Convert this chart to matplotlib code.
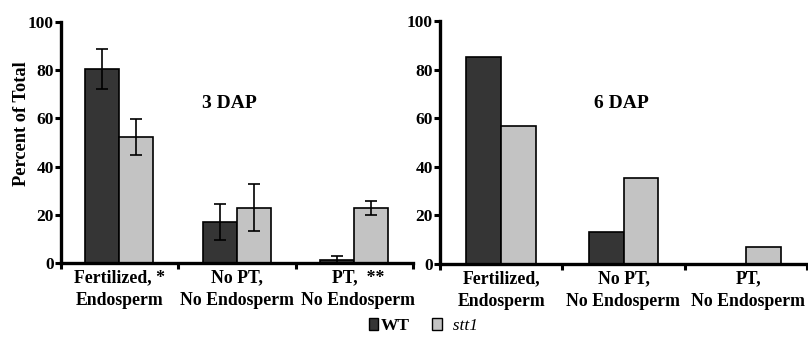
import matplotlib
matplotlib.use("Agg")
import matplotlib.pyplot as plt
import numpy as np
from matplotlib.patches import Patch

categories_3 = ["Fertilized, *\nEndosperm", "No PT,\nNo Endosperm", "PT,  **\nNo Endosperm"]
categories_6 = ["Fertilized,\nEndosperm", "No PT,\nNo Endosperm", "PT,\nNo Endosperm"]
wt_3dap = [80.5, 17.0, 1.2]
wt_3dap_err = [8.3, 7.3, 1.6]
stt1_3dap = [52.4, 23.0, 22.9]
stt1_3dap_err = [7.5, 9.7, 2.9]
wt_6dap = [85.0, 13.3, 0.0]
stt1_6dap = [56.7, 35.3, 6.9]
yticks = [0, 20, 40, 60, 80, 100]

plt.rcParams['font.family'] = ['Liberation Serif', 'DejaVu Serif']
plt.rcParams['font.weight'] = 'bold'

W, H = 808, 342
fig = plt.figure(figsize=(W/100, H/100), dpi=100)

WT_C = "#353535"
ST_C = "#c3c3c3"

def make_ax(x0, x1, y_top, y0):
    return fig.add_axes([x0/W, (H-y0)/H, (x1-x0)/W, (y0-y_top)/H])

def style(ax, cats, offsets):
    ax.set_xlim(0, 3)
    ax.set_ylim(0, 100)
    for s in ["top", "right"]:
        ax.spines[s].set_visible(False)
    for s in ["left", "bottom"]:
        ax.spines[s].set_linewidth(2.4)
    ax.set_yticks(yticks)
    ax.set_yticklabels([str(v) for v in yticks], fontsize=12.5, fontweight='bold')
    ax.set_xticks([0, 1, 2, 3])
    ax.set_xticklabels([])
    ax.tick_params(axis='both', direction='out', length=4, width=2.2, pad=2)
    ax.tick_params(axis='y', pad=1)
    centers = np.arange(len(cats)) + 0.5
    for c, lab, off in zip(centers, cats, offsets):
        ax.text(c + off, -2.5, lab, ha='center', va='top', fontsize=12.8, fontweight='bold',
                multialignment='center', linespacing=1.45, transform=ax.transData, clip_on=False)
    return centers

bw = 0.29
# Left panel
ax1 = make_ax(60.7, 413, 22, 263)
c = style(ax1, categories_3, [0, 0, 0.03])
ax1.bar(c - bw/2, wt_3dap, bw, color=WT_C, edgecolor='black', linewidth=1.2, zorder=2)
ax1.bar(c + bw/2, stt1_3dap, bw, color=ST_C, edgecolor='black', linewidth=1.2, zorder=2)
ax1.errorbar(c - bw/2, wt_3dap, yerr=[np.minimum(wt_3dap_err, wt_3dap), wt_3dap_err], fmt='none',
             ecolor='black', elinewidth=1.2, capsize=4, capthick=1.2, zorder=3)
ax1.errorbar(c + bw/2, stt1_3dap, yerr=stt1_3dap_err, fmt='none',
             ecolor='black', elinewidth=1.2, capsize=4, capthick=1.2, zorder=3)
ax1.text(-0.11, 0.58, "Percent of Total", transform=ax1.transAxes, rotation=90,
         ha='center', va='center', fontsize=13.2, fontweight='bold')
ax1.text(1.44, 66, "3 DAP", ha='center', va='center', fontsize=14, fontweight='bold')

# Right panel
bw2 = 0.285
ax2 = make_ax(440, 807, 21, 264)
c2 = style(ax2, categories_6, [0, 0, 0.02])
ax2.bar(c2 - bw2/2, wt_6dap, bw2, color=WT_C, edgecolor='black', linewidth=1.2, zorder=2)
ax2.bar(c2 + bw2/2, stt1_6dap, bw2, color=ST_C, edgecolor='black', linewidth=1.2, zorder=2)
ax2.text(1.48, 66, "6 DAP", ha='center', va='center', fontsize=14, fontweight='bold')

handles = [Patch(facecolor=WT_C, edgecolor='black', linewidth=1.0, label='WT'),
           Patch(facecolor=ST_C, edgecolor='black', linewidth=1.0, label='  stt1')]
leg = fig.legend(handles=handles, loc='center', bbox_to_anchor=(423.5/W, 1-326/H), ncol=2,
                 frameon=False, fontsize=12.5, handlelength=0.55, handleheight=0.65,
                 handletextpad=0.15, columnspacing=1.3)
texts = leg.get_texts()
texts[0].set_fontweight('bold')
texts[1].set_fontstyle('italic')
texts[1].set_fontweight('normal')

fig.savefig("out.png", dpi=100)
